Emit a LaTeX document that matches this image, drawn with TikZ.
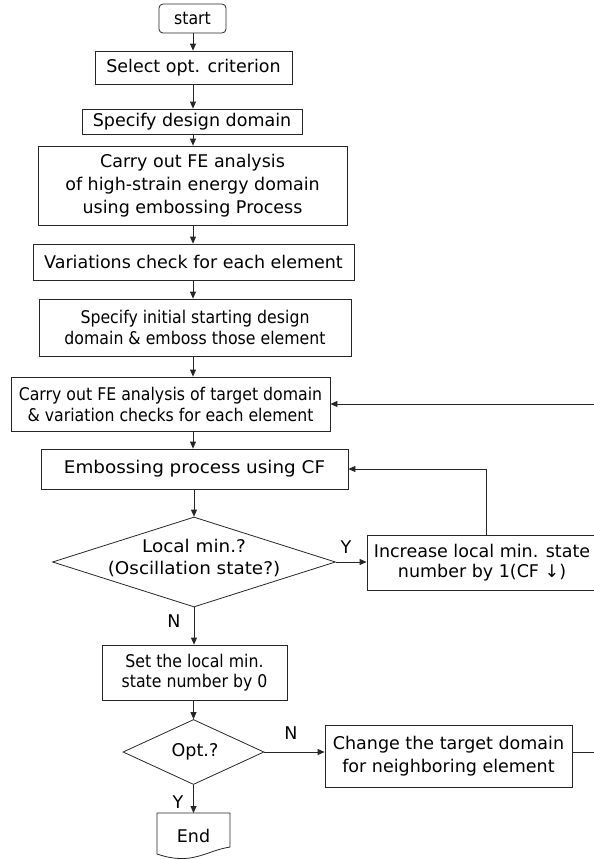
\documentclass[tikz,border=0pt]{standalone}
\usepackage{fontspec}
\setmainfont{DejaVu Sans}
\newfontfamily\narrowf[FakeStretch=0.9]{DejaVu Sans}
\newfontfamily\widef[FakeStretch=1.05]{DejaVu Sans}
\usetikzlibrary{shapes.geometric,arrows.meta}
\begin{document}
\begin{tikzpicture}[x=1pt,y=-1pt,
  fs/.style={font=\fontsize{17.5}{#1}\selectfont},
  fsn/.style={font=\narrowf\fontsize{17.5}{#1}\selectfont},
  fsw/.style={font=\widef\fontsize{17.5}{#1}\selectfont},
  every node/.style={fs=22},
  ln/.style={line width=0.8pt, draw=black!85},
  box/.style={ln, draw, rectangle, align=center, inner sep=0pt},
  dia/.style={ln, draw, diamond, inner sep=0pt},
  arr/.style={ln, -{Triangle[length=7pt,width=6pt]}},
  lbl/.style={inner sep=0pt, fs=20}
]
\useasboundingbox (0,0) rectangle (594,860);
\coordinate (ax) at (193,0);
\node[box, rounded corners=4pt, minimum width=67pt, minimum height=29pt, fsn=20] (start) at (192.5,18.5) {start};
\node[box, minimum width=197pt, minimum height=33pt, fs=22] (sel) at (193.5,67.5) {Select opt. criterion};
\node[box, minimum width=220pt, minimum height=25pt, fs=22] (spec) at (192,121.5) {Specify design domain};
\node[box, minimum width=309pt, minimum height=79pt, fs=23] (fe) at (192.5,185.5) {Carry out FE analysis\\of high-strain energy domain\\using embossing Process};
\node[box, minimum width=321pt, minimum height=36pt, fs=22] (var) at (193.5,262) {Variations check for each element};
\node[box, minimum width=312pt, minimum height=57pt, fsn=21] (init) at (195,327.5) {Specify initial starting design\\domain \& emboss those element};
\node[box, minimum width=319pt, minimum height=54pt, fsn=21] (tgt) at (170.5,404) {Carry out FE analysis of target domain\\\& variation checks for each element};
\node[box, minimum width=307pt, minimum height=40pt, fsw=22] (emb) at (194.5,469) {Embossing process using CF};
\node[dia, minimum width=283pt, minimum height=90pt] (loc) at (194,562) {};
\node[align=center, inner sep=0pt, fsw=22] (loctxt) at (194,558) {Local min.?\\(Oscillation state?)};
\node[box, minimum width=230pt, minimum height=55pt, fs=20] (inc) at (482,562.5) {Increase local min. state\\number by 1(CF ↓)};
\node[box, minimum width=185pt, minimum height=55pt, fsn=20] (set) at (194.5,672.5) {Set the local min.\\state number by 0};
\node[dia, minimum width=141pt, minimum height=65pt] (opt) at (193.5,752) {};
\node[inner sep=0pt, fs=20] (opttxt) at (195,752) {Opt.?};
\node[box, minimum width=247pt, minimum height=62pt, fs=23] (chg) at (448.5,756) {Change the target domain\\for neighboring element};
\node[inner sep=0pt, minimum width=73pt, minimum height=36pt] (end) at (193.5,836) {End};
\draw[ln] (157,813) -- (230,813) -- (230,847) .. controls (205,851) and (192,866) .. (157,854) -- cycle;
\coordinate (endtop) at (193.5,813);
\coordinate (incup) at (486,535);
\coordinate (rt) at (610,752);
% main flow
\draw[arr] (start.south -| ax) -- (sel.north -| ax);
\draw[arr] (sel.south -| ax) -- (spec.north -| ax);
\draw[arr] (spec.south -| ax) -- (fe.north -| ax);
\draw[arr] (fe.south -| ax) -- (var.north -| ax);
\draw[arr] (var.south -| ax) -- (init.north -| ax);
\draw[arr] (init.south -| ax) -- (tgt.north -| ax);
\draw[arr] (tgt.south -| ax) -- (emb.north -| ax);
\draw[arr] (emb.south -| loc.north) -- (loc.north);
\draw[arr] (loc.east) -- (loc.east -| inc.west);
\node[lbl] (ly) at (346,547) {Y};
\draw[arr] (incup) -- (incup |- emb.east) -- (emb.east);
\draw[arr] (loc.south) -- (loc.south |- set.north);
\node[lbl] (ln) at (174,621) {N};
\draw[arr] (set.south -| opt.north) -- (opt.north);
\draw[arr] (opt.east) -- (opt.east -| chg.west);
\node[lbl] (on) at (291,733) {N};
\draw[arr] (opt.south) -- (endtop);
\node[lbl] (oy) at (178,802) {Y};
\draw[arr] (chg.east |- rt) -- (rt) -- (rt |- tgt.east) -- (tgt.east);
\end{tikzpicture}
\end{document}
